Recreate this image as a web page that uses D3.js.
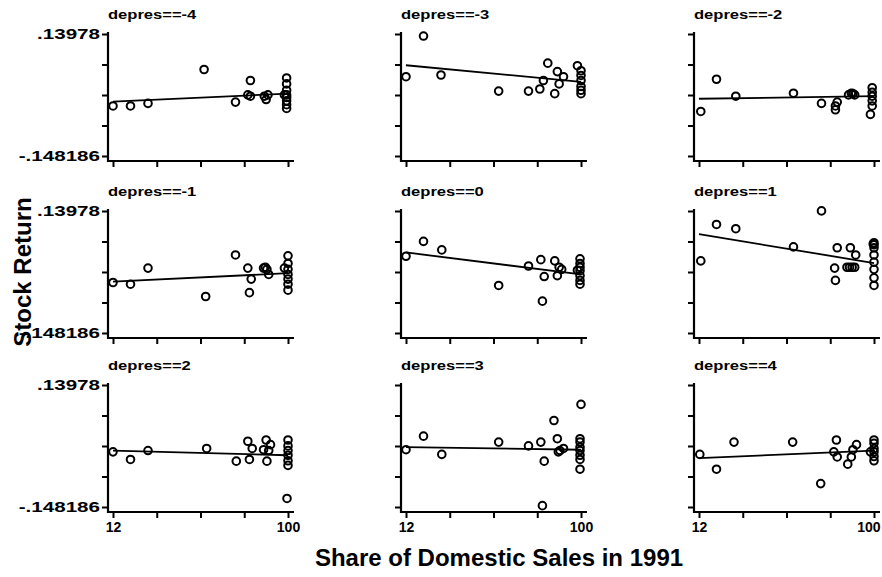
<!DOCTYPE html>
<html>
<head>
<meta charset="utf-8">
<script src="https://cdn.jsdelivr.net/npm/d3@7"></script>
<style>
  body { margin: 0; background: #fff; }
  text { font-family: "Liberation Sans", Arial, Helvetica, sans-serif; font-weight: bold; fill: #000; }
</style>
</head>
<body>
<svg id="chart" width="882" height="577"></svg>
<script>
// Panel headings, one per depreciation level
const panelLabels = ["depres==-4", "depres==-3", "depres==-2",
                     "depres==-1", "depres==0",  "depres==1",
                     "depres==2",  "depres==3",  "depres==4"];

// Axis ticks (only the ends are labelled)
const yTickValues = [0.13978, 0.067789, -0.004203, -0.076194, -0.148186];
const yTickLabels = [".13978", "", "", "", "-.148186"];
const xTickValues = [12, 34, 56, 78, 100];
const xTickLabels = ["12", "", "", "", "100"];

// [share of domestic sales, stock return] per panel
const returnsDm4 = [[12, -0.030], [20.8, -0.030], [29.6, -0.024], [57.8, 0.056], [73.6, -0.021],
  [81.1, 0.030], [79.8, -0.004], [81.1, -0.007], [88.1, -0.007], [89, -0.015], [89.9, -0.004],
  [98.2, -0.004], [99.3, 0.036], [99.3, 0.022], [99.3, 0.007], [99.3, -0.004], [99.3, -0.010],
  [99.3, -0.018], [99.3, -0.027], [99.3, -0.036]];
const returnsDm3 = [[20.8, 0.135], [12, 0.039], [29.6, 0.043], [58.6, 0.005], [73.6, 0.005],
  [79.3, 0.010], [81.1, 0.030], [83.3, 0.071], [86.8, -0.001], [88.1, 0.051], [89, 0.022],
  [91.2, 0.039], [98.2, 0.065], [100, 0.053], [100, 0.042], [100, 0.030], [100, 0.016],
  [100, 0.007], [100, -0.001]];
const returnsDm2 = [[12.9, -0.043], [20.8, 0.033], [30.5, -0.007], [59.5, 0.000], [73.6, -0.024],
  [80.6, -0.030], [80.6, -0.039], [81.5, -0.021], [87.2, -0.004], [88.6, 0.000], [89.4, -0.001],
  [90.3, -0.004], [99.1, 0.013], [99.1, 0.002], [99.1, -0.007], [99.1, -0.018], [99.1, -0.030],
  [98.2, -0.050]];
const returnsDm1 = [[12, -0.029], [20.8, -0.033], [29.6, 0.005], [58.6, -0.062], [73.6, 0.036],
  [79.8, 0.005], [80.6, -0.053], [81.5, -0.021], [87.7, 0.005], [88.6, 0.007], [89.4, 0.002],
  [90.3, -0.010], [98.2, 0.005], [100, 0.034], [100, 0.016], [100, 0.002], [100, -0.010],
  [100, -0.021], [100, -0.033], [100, -0.047]];
const returnsD0 = [[12, 0.033], [20.8, 0.068], [30, 0.048], [58.6, -0.036], [73.6, 0.010],
  [79.8, 0.025], [80.6, -0.073], [81.5, -0.015], [86.8, 0.022], [88.1, -0.013], [89, 0.007],
  [90.3, 0.002], [98.2, 0.000], [99.5, 0.027], [99.5, 0.016], [99.5, 0.007], [99.5, -0.001],
  [99.5, -0.013], [99.5, -0.024], [99.5, -0.033]];
const returnsD1 = [[12.9, 0.022], [20.8, 0.108], [30.5, 0.098], [59.5, 0.055], [73.6, 0.140],
  [80.2, 0.005], [80.6, -0.024], [81.5, 0.053], [88.1, 0.053], [90.8, 0.036],
  [86.4, 0.007], [87.7, 0.007], [89, 0.007], [90.3, 0.007],
  [100, 0.065], [99.6, 0.062], [100, 0.060], [100, 0.053], [100, 0.036], [100, 0.019],
  [100, 0.002], [100, -0.018], [100, -0.036]];
const returnsD2 = [[12, -0.018], [20.8, -0.036], [29.6, -0.015], [59.1, -0.010], [74, -0.040],
  [79.8, 0.007], [80.6, -0.036], [82, -0.010], [87.7, -0.013], [89, 0.010], [89.4, -0.040],
  [91.2, -0.001], [90.3, -0.015], [100, 0.010], [100, -0.004], [100, -0.015], [100, -0.026],
  [100, -0.039], [100, -0.050], [99.5, -0.128]];
const returnsD3 = [[12, -0.013], [20.8, 0.019], [30, -0.024], [58.6, 0.005], [73.6, -0.004],
  [79.8, 0.005], [80.6, -0.145], [81.5, -0.040], [86.4, 0.056], [88.1, 0.013], [88.6, -0.018],
  [89.4, -0.015], [91.2, -0.010], [100, 0.094], [99.5, 0.013], [99.5, 0.005], [99.5, -0.007],
  [99.5, -0.015], [99.5, -0.026], [99.5, -0.036], [99.5, -0.059]];
const returnsD4 = [[12.4, -0.024], [20.8, -0.059], [29.6, 0.005], [59.1, 0.005], [73.2, -0.093],
  [81.1, 0.010], [79.8, -0.018], [81.5, -0.030], [86.8, -0.047], [88.6, -0.030], [89.4, -0.013],
  [91.2, -0.001], [98.2, -0.018], [100, 0.010], [100, 0.002], [100, -0.010], [100, -0.018],
  [100, -0.029], [100, -0.039]];

// Fitted regression line: predicted return at share = 12 and share = 100
const fitAt12  = [-0.020, 0.066, -0.013, -0.027, 0.042, 0.085, -0.015, -0.007, -0.033];
const fitAt100 = [-0.001, 0.027, -0.007, -0.007, -0.010, 0.017, -0.026, -0.013, -0.015];

const panelData = [returnsDm4, returnsDm3, returnsDm2, returnsDm1, returnsD0, returnsD1,
                   returnsD2, returnsD3, returnsD4];

// Layout of the 3 x 3 grid
const colLeft = [113, 406, 699];
const rowTop  = [34, 211, 385];
const plotW = 175, plotH = 122;
const axisGap = 5;

const svg = d3.select("#chart");

panelLabels.forEach((label, i) => {
  const col = i % 3, row = Math.floor(i / 3);
  const x = d3.scaleLinear().domain([12, 100]).range([colLeft[col], colLeft[col] + plotW]);
  const y = d3.scaleLinear().domain([-0.148186, 0.13978]).range([rowTop[row] + plotH, rowTop[row]]);
  const g = svg.append("g");
  const axisX = colLeft[col] - axisGap;
  const axisY = rowTop[row] + plotH + axisGap;

  // panel heading
  g.append("text")
    .attr("transform", `translate(${axisX},${rowTop[row] - 15}) scale(1.38,1)`)
    .attr("font-size", 12)
    .text(label);

  // y axis
  const yAxis = d3.axisLeft(y).tickValues(yTickValues).tickSize(6).tickSizeOuter(0)
    .tickFormat((d, k) => col === 0 ? yTickLabels[k] : "");
  const gy = g.append("g").attr("transform", `translate(${axisX},0)`).call(yAxis);
  gy.select(".domain").remove();
  gy.selectAll(".tick line").attr("stroke", "#000").attr("stroke-width", 2);
  gy.selectAll(".tick text")
    .attr("x", null)
    .attr("transform", "translate(-8,0) scale(1.47,1)")
    .attr("font-size", 14)
    .attr("font-family", null);
  g.append("line")
    .attr("x1", axisX).attr("x2", axisX)
    .attr("y1", y(0.13978) - 2).attr("y2", axisY + 1)
    .attr("stroke", "#000").attr("stroke-width", 2.2);

  // x axis
  const xAxis = d3.axisBottom(x).tickValues(xTickValues).tickSize(6).tickSizeOuter(0)
    .tickFormat((d, k) => row === 2 ? xTickLabels[k] : "");
  const gx = g.append("g").attr("transform", `translate(0,${axisY})`).call(xAxis);
  gx.select(".domain").remove();
  gx.selectAll(".tick line").attr("stroke", "#000").attr("stroke-width", 2);
  gx.selectAll(".tick text").attr("y", 10).attr("font-size", 14).attr("font-family", null);
  if (col === 2) {
    // keep the right-most label inside the page
    gx.selectAll(".tick text").filter((d, k) => k === xTickValues.length - 1)
      .attr("text-anchor", "end").attr("x", 6);
  }
  g.append("line")
    .attr("x1", axisX - 1).attr("x2", Math.min(x(100) + 6, 881))
    .attr("y1", axisY).attr("y2", axisY)
    .attr("stroke", "#000").attr("stroke-width", 2.2);

  // fitted line
  g.append("line")
    .attr("x1", x(12)).attr("y1", y(fitAt12[i]))
    .attr("x2", x(100)).attr("y2", y(fitAt100[i]))
    .attr("stroke", "#000").attr("stroke-width", 1.8);

  // observations
  g.selectAll("circle").data(panelData[i]).join("circle")
    .attr("cx", d => x(d[0]))
    .attr("cy", d => y(d[1]))
    .attr("r", 3.8)
    .attr("fill", "none")
    .attr("stroke", "#000")
    .attr("stroke-width", 2);
});

// axis titles
svg.append("text")
  .attr("transform", "translate(31,272) rotate(-90)")
  .attr("text-anchor", "middle")
  .attr("font-size", 24)
  .text("Stock Return");

svg.append("text")
  .attr("x", 499).attr("y", 566)
  .attr("text-anchor", "middle")
  .attr("font-size", 24)
  .text("Share of Domestic Sales in 1991");
</script>
</body>
</html>
